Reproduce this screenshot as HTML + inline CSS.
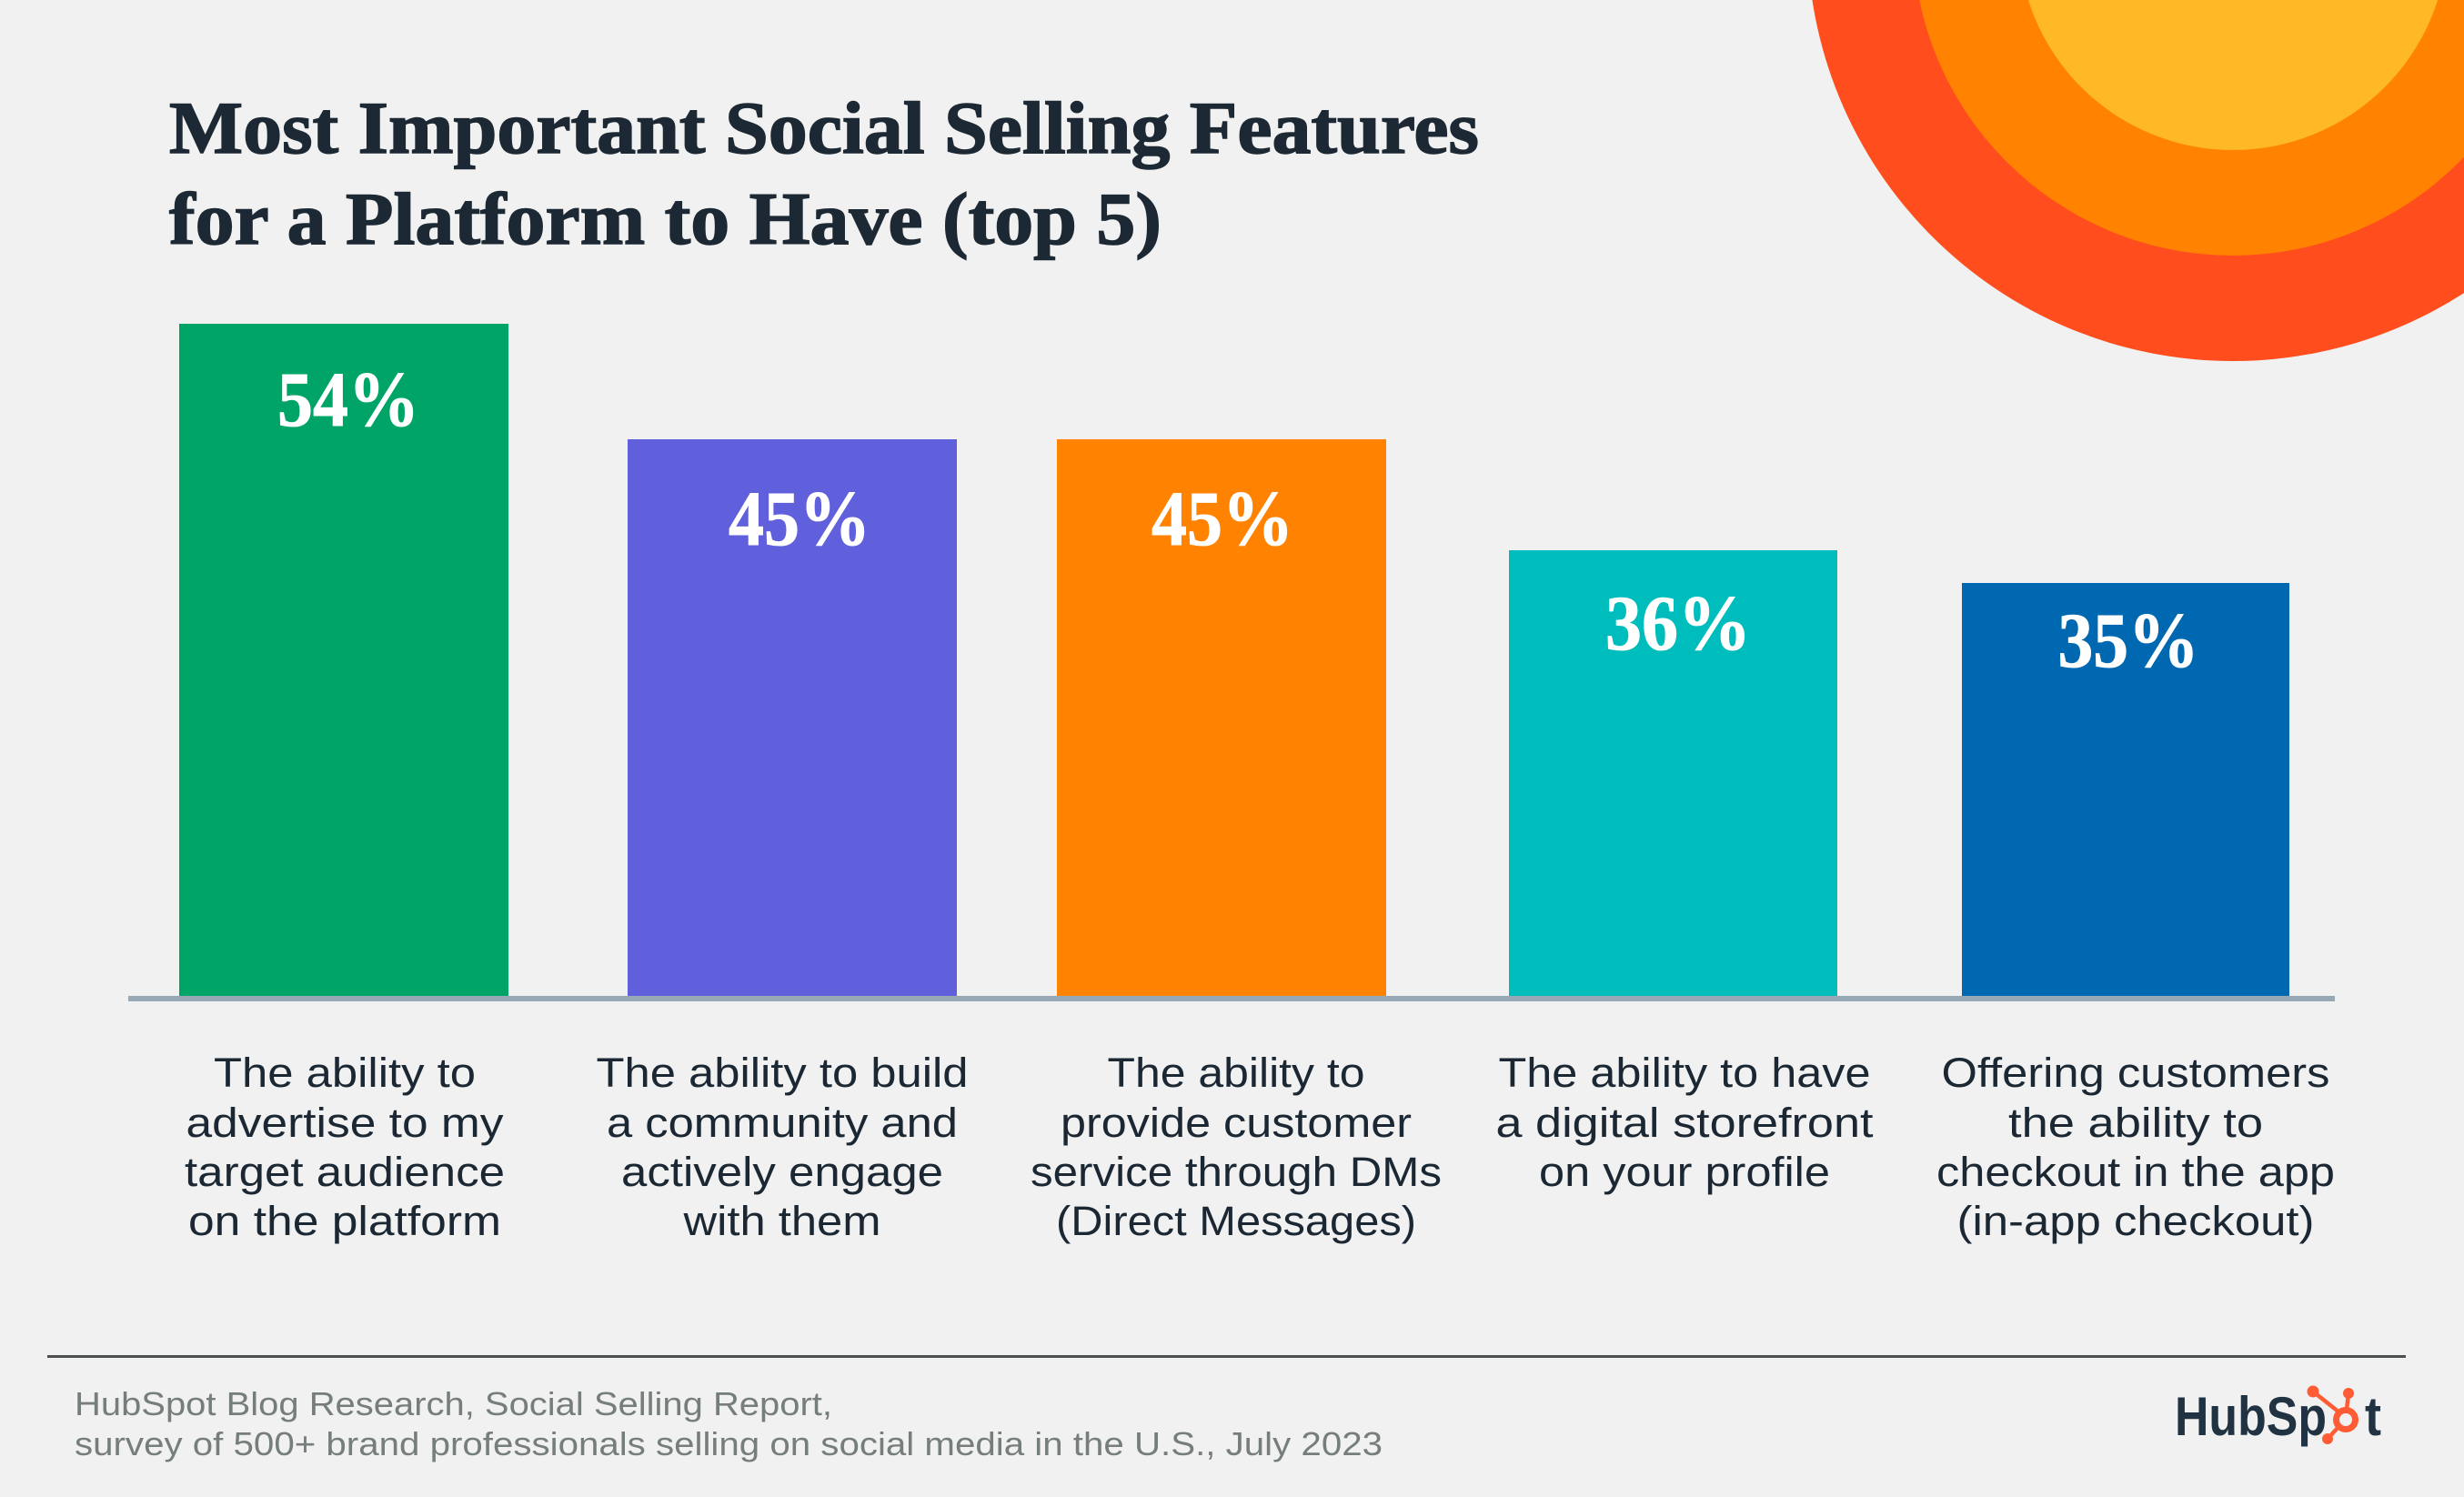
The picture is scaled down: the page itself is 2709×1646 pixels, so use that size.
<!DOCTYPE html>
<html>
<head>
<meta charset="utf-8">
<style>
  html,body{margin:0;padding:0;background:#f0f1f0;}
  svg{display:block;}
  .title{font-family:"Liberation Serif",serif;font-weight:bold;font-size:82px;fill:#1c2833;stroke:#1c2833;stroke-width:1.5px;}
  .pct{font-family:"Liberation Serif",serif;font-weight:bold;font-size:86px;fill:#ffffff;stroke:#ffffff;stroke-width:1px;}
  .lbl{font-family:"Liberation Sans",sans-serif;font-size:45px;fill:#1b2733;}
  .src{font-family:"Liberation Sans",sans-serif;font-size:36px;fill:#767e7d;}
  .logo{font-family:"Liberation Sans",sans-serif;font-weight:bold;font-size:60px;fill:#213343;}
</style>
</head>
<body>
<svg width="2709" height="1646" viewBox="0 0 2709 1646" xmlns="http://www.w3.org/2000/svg">
  <rect x="0" y="0" width="2709" height="1646" fill="#f0f1f0"/>

  <!-- decorative circles -->
  <circle cx="2455" cy="-71" r="468" fill="#ff4d1e"/>
  <circle cx="2455" cy="-71" r="352" fill="#ff8300"/>
  <circle cx="2455" cy="-71" r="236" fill="#ffb826"/>

  <!-- title -->
  <text class="title" x="186" y="168" textLength="1440" lengthAdjust="spacingAndGlyphs">Most Important Social Selling Features</text>
  <text class="title" x="186" y="268" textLength="1091" lengthAdjust="spacingAndGlyphs">for a Platform to Have (top 5)</text>

  <!-- bars -->
  <rect x="197" y="356" width="362" height="740" fill="#00a466"/>
  <rect x="690" y="483" width="362" height="613" fill="#6060dc"/>
  <rect x="1162" y="483" width="362" height="613" fill="#ff8300"/>
  <rect x="1659" y="605" width="361" height="491" fill="#00bdbd"/>
  <rect x="2157" y="641" width="360" height="455" fill="#0068b1"/>

  <!-- axis -->
  <rect x="141" y="1095" width="2426" height="6" fill="#98a9b6"/>

  <!-- value labels -->
  <text class="pct" x="383" y="468" text-anchor="middle" textLength="156" lengthAdjust="spacingAndGlyphs">54%</text>
  <text class="pct" x="879" y="599" text-anchor="middle" textLength="156" lengthAdjust="spacingAndGlyphs">45%</text>
  <text class="pct" x="1344" y="599" text-anchor="middle" textLength="156" lengthAdjust="spacingAndGlyphs">45%</text>
  <text class="pct" x="1845" y="714" text-anchor="middle" textLength="160" lengthAdjust="spacingAndGlyphs">36%</text>
  <text class="pct" x="2340" y="733" text-anchor="middle" textLength="155" lengthAdjust="spacingAndGlyphs">35%</text>

  <!-- category labels -->
  <g class="lbl" text-anchor="middle">
    <text x="379" y="1195" textLength="288" lengthAdjust="spacingAndGlyphs">The ability to</text>
    <text x="379" y="1250" textLength="349" lengthAdjust="spacingAndGlyphs">advertise to my</text>
    <text x="379" y="1304" textLength="352" lengthAdjust="spacingAndGlyphs">target audience</text>
    <text x="379" y="1358" textLength="344" lengthAdjust="spacingAndGlyphs">on the platform</text>

    <text x="860" y="1195" textLength="409" lengthAdjust="spacingAndGlyphs">The ability to build</text>
    <text x="860" y="1250" textLength="386" lengthAdjust="spacingAndGlyphs">a community and</text>
    <text x="860" y="1304" textLength="354" lengthAdjust="spacingAndGlyphs">actively engage</text>
    <text x="860" y="1358" textLength="217" lengthAdjust="spacingAndGlyphs">with them</text>

    <text x="1359" y="1195" textLength="283" lengthAdjust="spacingAndGlyphs">The ability to</text>
    <text x="1359" y="1250" textLength="386" lengthAdjust="spacingAndGlyphs">provide customer</text>
    <text x="1359" y="1304" textLength="452" lengthAdjust="spacingAndGlyphs">service through DMs</text>
    <text x="1359" y="1358" textLength="396" lengthAdjust="spacingAndGlyphs">(Direct Messages)</text>

    <text x="1852" y="1195" textLength="409" lengthAdjust="spacingAndGlyphs">The ability to have</text>
    <text x="1852" y="1250" textLength="415" lengthAdjust="spacingAndGlyphs">a digital storefront</text>
    <text x="1852" y="1304" textLength="320" lengthAdjust="spacingAndGlyphs">on your profile</text>

    <text x="2348" y="1195" textLength="427" lengthAdjust="spacingAndGlyphs">Offering customers</text>
    <text x="2348" y="1250" textLength="280" lengthAdjust="spacingAndGlyphs">the ability to</text>
    <text x="2348" y="1304" textLength="438" lengthAdjust="spacingAndGlyphs">checkout in the app</text>
    <text x="2348" y="1358" textLength="393" lengthAdjust="spacingAndGlyphs">(in-app checkout)</text>
  </g>

  <!-- footer rule -->
  <rect x="52" y="1490" width="2593" height="3" fill="#4b4f4f"/>

  <!-- source -->
  <text class="src" x="82" y="1556" textLength="833" lengthAdjust="spacingAndGlyphs">HubSpot Blog Research, Social Selling Report,</text>
  <text class="src" x="82" y="1600" textLength="1438" lengthAdjust="spacingAndGlyphs">survey of 500+ brand professionals selling on social media in the U.S., July 2023</text>

  <!-- HubSpot logo -->
  <text class="logo" x="2391" y="1578" textLength="167" lengthAdjust="spacingAndGlyphs">HubSp</text>
  <g fill="#ff5c35" stroke="#ff5c35">
    <line x1="2543" y1="1530" x2="2572" y2="1553" stroke-width="4.5"/>
    <line x1="2582" y1="1532" x2="2580" y2="1550" stroke-width="4.5"/>
    <line x1="2559" y1="1582" x2="2571" y2="1569" stroke-width="4.5"/>
    <circle cx="2543" cy="1530" r="6.5" stroke="none"/>
    <circle cx="2582" cy="1532" r="6" stroke="none"/>
    <circle cx="2559" cy="1582" r="6" stroke="none"/>
    <circle cx="2579" cy="1561" r="10.5" fill="none" stroke-width="7"/>
  </g>
  <text class="logo" x="2600" y="1578" textLength="18" lengthAdjust="spacingAndGlyphs">t</text>
</svg>
</body>
</html>
